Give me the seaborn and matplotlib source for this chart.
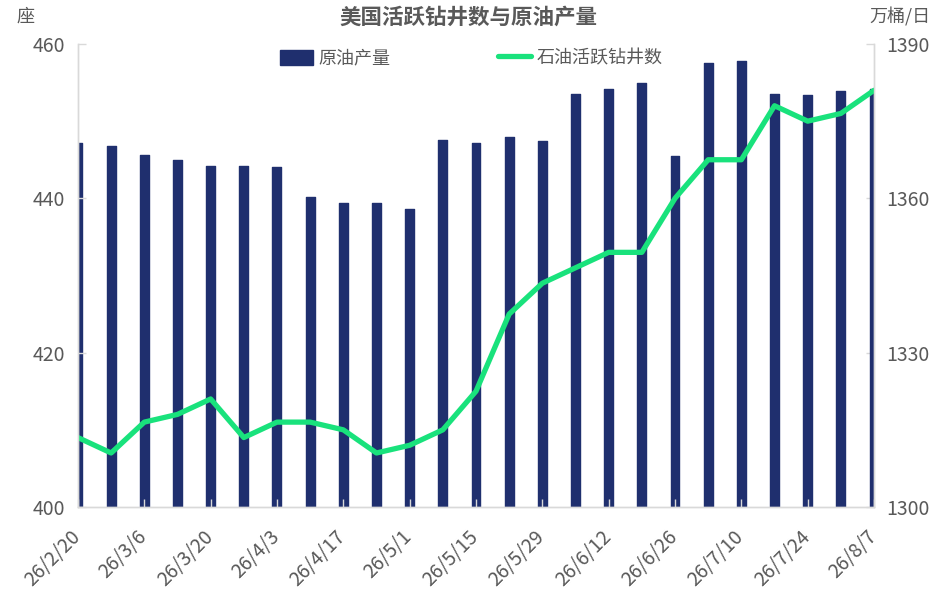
import numpy as np
import matplotlib
matplotlib.use('Agg')
import matplotlib.pyplot as plt
import matplotlib.transforms as mtransforms
import seaborn as sns

dates = ['26/2/20', '26/2/27', '26/3/6', '26/3/13', '26/3/20', '26/3/27', '26/4/3',
         '26/4/10', '26/4/17', '26/4/24', '26/5/1', '26/5/8', '26/5/15', '26/5/22',
         '26/5/29', '26/6/5', '26/6/12', '26/6/19', '26/6/26', '26/7/3', '26/7/10',
         '26/7/17', '26/7/24', '26/7/31', '26/8/7']

# 原油产量 (万桶/日), right axis
production = [1370.7, 1370.2, 1368.4, 1367.4, 1366.2, 1366.2, 1366.0, 1360.2, 1359.0,
              1359.1, 1357.9, 1371.4, 1370.7, 1372.0, 1371.1, 1380.3, 1381.2, 1382.4,
              1368.3, 1386.4, 1386.6, 1380.3, 1380.0, 1380.9, 1381.2]

# 石油活跃钻井数 (座), left axis
rigs = [409, 407, 411, 412, 414, 409, 411, 411, 410, 407, 408, 410, 415, 425, 429,
        431, 433, 433, 440, 445, 445, 452, 450, 451, 454]

sns.set_style('white')
plt.rcParams['font.family'] = ['Noto Sans CJK SC', 'DejaVu Sans']

bar_color = '#1f2f6e'
line_color = '#19e27c'
text_color = '#595959'
axis_color = '#d9d9d9'

fig, ax1 = plt.subplots(figsize=(9.37, 6.01), dpi=100)
fig.subplots_adjust(left=0.0832, right=0.9328, top=0.9268, bottom=0.1564)
ax2 = ax1.twinx()

x = np.arange(len(dates))

sns.barplot(x=x, y=production, ax=ax2, color=bar_color, width=0.27,
            saturation=1, label='原油产量', native_scale=True)
for p in ax2.patches:
    p.set_edgecolor(bar_color)
    p.set_linewidth(1.0)
    p.set_joinstyle('round')

sns.lineplot(x=x, y=rigs, ax=ax1, color=line_color, linewidth=3.8,
             label='石油活跃钻井数')

# line drawn above the bars
ax1.set_zorder(ax2.get_zorder() + 1)
ax1.patch.set_visible(False)

ax1.set_xlim(0, len(dates) - 1)
ax1.set_ylim(400, 460)
ax1.set_yticks([400, 420, 440, 460])
ax2.set_ylim(1300, 1390)
ax2.set_yticks([1300, 1330, 1360, 1390])

ax1.set_xticks(x[::2])
ax1.set_xticklabels(dates[::2], rotation=45, ha='right', rotation_mode='anchor')
ax2.set_xlabel('')

for ax in (ax1, ax2):
    ax.spines['top'].set_visible(False)
    for side in ['left', 'right', 'bottom']:
        ax.spines[side].set_color(axis_color)
        ax.spines[side].set_linewidth(1)
    ax.tick_params(colors=axis_color, labelcolor=text_color, labelsize=14,
                   direction='in', length=6, width=1)

ax1.tick_params(axis='y', left=True, right=False, pad=9)
ax2.tick_params(axis='y', right=True, left=False, pad=9)
ax1.tick_params(axis='x', bottom=True, pad=8)
ax2.tick_params(axis='x', bottom=False, labelbottom=False)

shift = mtransforms.ScaledTranslation(-8 / 100, -8 / 100, fig.dpi_scale_trans)
for lab in ax1.get_xticklabels():
    lab.set_transform(lab.get_transform() + shift)

if ax1.get_legend():
    ax1.get_legend().remove()
if ax2.get_legend():
    ax2.get_legend().remove()

h2, l2 = ax2.get_legend_handles_labels()
h1, l1 = ax1.get_legend_handles_labels()
fig.legend(h2 + h1, l2 + l1, loc='center', bbox_to_anchor=(0.503, 0.903), ncol=2,
           frameon=False, fontsize=13, labelcolor=text_color, handlelength=1.8,
           handleheight=0.9, handletextpad=0.3, columnspacing=6)

fig.text(0.5, 0.971, '美国活跃钻井数与原油产量', ha='center', va='center',
         fontsize=15.5, fontweight='bold', color=text_color)
fig.text(0.027, 0.972, '座', ha='center', va='center', fontsize=13, color=text_color)
fig.text(0.96, 0.972, '万桶/日', ha='center', va='center', fontsize=13, color=text_color)

fig.savefig('out.png', dpi=100)
